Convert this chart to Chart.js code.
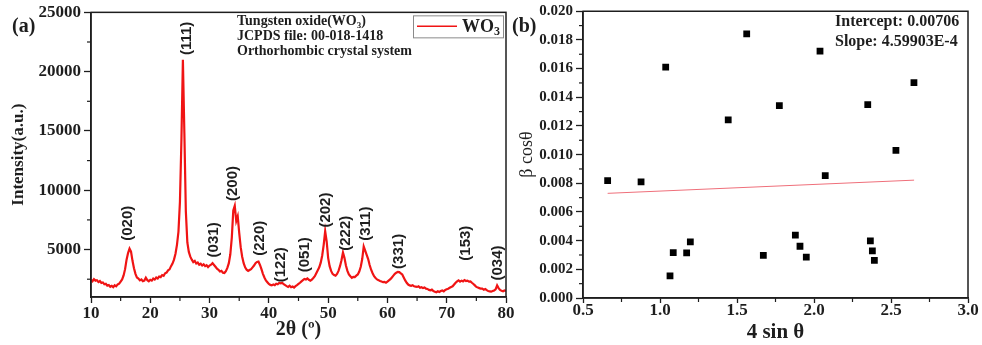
<!DOCTYPE html>
<html>
<head>
<meta charset="utf-8">
<script src="https://cdn.jsdelivr.net/npm/chart.js@4.4.1/dist/chart.umd.min.js"></script>
<style>
  html, body { margin: 0; padding: 0; background: #fff; }
  #wrap { position: relative; width: 982px; height: 345px; overflow: hidden; background: #fff; }
  #xrd { position: absolute; left: 0; top: 0; }
  #wh { position: absolute; left: 500px; top: 0; }
</style>
</head>
<body>
<div id="wrap">
  <canvas id="xrd" width="520" height="345" style="width:520px;height:345px"></canvas>
  <canvas id="wh" width="482" height="345" style="width:482px;height:345px"></canvas>
</div>
<script>
const thetaStart = 10;
const thetaStep = 0.25;
const intensity = [
  2450, 2330, 2500, 2380,   // 10
  2420, 2260, 2350, 2190,   // 11
  2230, 2080, 2120, 1960,   // 12
  2010, 1860, 1940, 1830,   // 13
  1990, 1900, 2060, 2120,   // 14
  2300, 2480, 2820, 3350,   // 15
  4150, 4700, 5080, 4820,   // 16
  4050, 3420, 2950, 2640,   // 17
  2560, 2400, 2480, 2330,   // 18
  2380, 2620, 2420, 2330,   // 19
  2450, 2380, 2560, 2470,   // 20
  2640, 2560, 2730, 2680,   // 21
  2850, 2790, 3000, 3060,   // 22
  3250, 3330, 3600, 3820,   // 23
  4150, 4650, 5400, 6500,   // 24
  9000, 14200, 21000, 14800, // 25
  8200, 5600, 4800, 4400,   // 26
  4150, 3950, 4050, 3820,   // 27
  3900, 3720, 3800, 3650,   // 28
  3750, 3600, 3680, 3520,   // 29
  3650, 3720, 3850, 3700,   // 30
  3550, 3380, 3300, 3150,   // 31
  3200, 3050, 3020, 3180,   // 32
  3450, 3850, 4600, 6000,   // 33
  8300, 8700, 7400, 7800,   // 34
  6400, 5200, 4400, 3850,   // 35
  3500, 3300, 3200, 3280,   // 36
  3350, 3500, 3650, 3850,   // 37
  3950, 3980, 3700, 3350,   // 38
  2950, 2650, 2400, 2250,   // 39
  2100, 2020, 1980, 2060,   // 40
  2000, 2120, 2080, 2180,   // 41
  2150, 2200, 2080, 2000,   // 42
  1920, 1850, 1950, 1820,   // 43
  1880, 1800, 1920, 2000,   // 44
  2100, 2200, 2320, 2420,   // 45
  2520, 2480, 2560, 2450,   // 46
  2380, 2470, 2600, 2750,   // 47
  3000, 3250, 3500, 3900,   // 48
  4500, 5400, 6550, 5700,   // 49
  4300, 3600, 3200, 2950,   // 50
  2850, 2800, 2950, 3200,   // 51
  3600, 4100, 4750, 4300,   // 52
  3650, 3200, 2900, 2750,   // 53
  2620, 2700, 2680, 2800,   // 54
  2900, 3150, 3550, 4200,   // 55
  5250, 4900, 4550, 4200,   // 56
  3700, 3300, 3000, 2750,   // 57
  2600, 2480, 2420, 2350,   // 58
  2300, 2250, 2280, 2200,   // 59
  2300, 2400, 2500, 2650,   // 60
  2800, 2950, 3050, 3120,   // 61
  3100, 3000, 2900, 2650,   // 62
  2400, 2200, 2050, 1980,   // 63
  1950, 2000, 1900, 1880,   // 64
  1850, 1900, 1780, 1820,   // 65
  1750, 1800, 1700, 1680,   // 66
  1600, 1560, 1620, 1500,   // 67
  1450, 1400, 1480, 1420,   // 68
  1500, 1550, 1480, 1600,   // 69
  1650, 1700, 1780, 1850,   // 70
  1900, 2050, 2200, 2320,   // 71
  2400, 2300, 2380, 2320,   // 72
  2420, 2350, 2380, 2300,   // 73
  2320, 2200, 2100, 1980,   // 74
  1850, 1800, 1750, 1700,   // 75
  1700, 1620, 1680, 1580,   // 76
  1500, 1480, 1450, 1500,   // 77
  1550, 1650, 1980, 1750,   // 78
  1600, 1520, 1480, 1550,   // 79
  1520                      // 80
];
const twoTheta = intensity.map((_, i) => thetaStart + i * thetaStep);

// hkl labels and where they sit (2theta, intensity at the start of the text)
const peakNames = ['(020)', '(111)', '(031)', '(200)', '(220)', '(122)', '(051)', '(202)', '(222)', '(311)', '(331)', '(153)', '(034)'];
const peakAt    = [16.2, 26.2, 30.7, 34.0, 38.4, 42.1, 46.0, 49.6, 53.0, 56.3, 62.0, 73.2, 78.6];
const peakLevel = [5740, 21400, 4340, 9090, 4480, 2240, 3080, 6850, 4900, 5740, 3370, 4060, 2390];

const xrdTicksY = [5000, 10000, 15000, 20000, 25000];
const xrdMinorX = [15, 25, 35, 45, 55, 65, 75];
const xrdMinorY = [2500, 7500, 12500, 17500, 22500];

// (b) Williamson-Hall plot
const fourSin = [0.660, 0.877, 1.037, 1.065, 1.086, 1.173, 1.197, 1.443, 1.563, 1.671, 1.775,
                 1.879, 1.909, 1.950, 2.039, 2.073, 2.349, 2.366, 2.379, 2.392, 2.532, 2.649];
const betaCos = [0.00819, 0.00810, 0.01611, 0.00155, 0.00317, 0.00315, 0.00391, 0.01243, 0.01842, 0.00297, 0.01342,
                 0.00438, 0.00361, 0.00285, 0.01722, 0.00854, 0.01349, 0.00398, 0.00328, 0.00262, 0.01030, 0.01502];
const fitX = [0.66, 2.65];
const fitY = [0.00730, 0.00822];

const whMinorX = [0.75, 1.25, 1.75, 2.25, 2.75];
const whMinorY = [0.001, 0.003, 0.005, 0.007, 0.009, 0.011, 0.013, 0.015, 0.017, 0.019];

const SERIF = '"Liberation Serif", "Times New Roman", serif';
const SANS = '"Liberation Sans", Arial, sans-serif';
const INK = '#1e1e1e';

// text with subscript parts: ['WO', ['3'], ')']
function drawRich(ctx, parts, x, y, size, weight) {
  let cx = x;
  parts.forEach(p => {
    const sub = Array.isArray(p);
    const txt = sub ? p[0] : p;
    ctx.font = `${weight} ${sub ? Math.round(size * 0.65) : size}px ${SERIF}`;
    ctx.fillText(txt, cx, sub ? y + size * 0.3 : y);
    cx += ctx.measureText(txt).width;
  });
  return cx;
}

const deco = {
  id: 'deco',
  afterDraw(chart, args, opts) {
    const { ctx, chartArea: a, scales } = chart;
    ctx.save();
    ctx.strokeStyle = INK;
    ctx.lineWidth = 1.5;
    ctx.strokeRect(a.left, a.top, a.right - a.left, a.bottom - a.top);

    ctx.lineWidth = 1.2;
    (opts.minorX || []).forEach(v => {
      const p = scales.x.getPixelForValue(v);
      ctx.beginPath(); ctx.moveTo(p, a.bottom); ctx.lineTo(p, a.bottom + 4); ctx.stroke();
    });
    (opts.minorY || []).forEach(v => {
      const p = scales.y.getPixelForValue(v);
      ctx.beginPath(); ctx.moveTo(a.left, p); ctx.lineTo(a.left - 4, p); ctx.stroke();
    });

    ctx.fillStyle = INK;
    ctx.textBaseline = 'middle';
    ctx.textAlign = 'left';

    if (opts.peaks) {
      ctx.font = `bold 15px ${SANS}`;
      opts.peaks.names.forEach((name, i) => {
        const px = scales.x.getPixelForValue(opts.peaks.x[i]);
        const py = scales.y.getPixelForValue(opts.peaks.y[i]);
        ctx.save();
        ctx.translate(px, py);
        ctx.rotate(-Math.PI / 2);
        ctx.fillText(name, 0, 0);
        ctx.restore();
      });
    }

    (opts.notes || []).forEach(n => {
      drawRich(ctx, n.parts, n.x, n.y, n.size, n.weight || 'bold');
    });

    if (opts.legend) {
      const ds = chart.data.datasets[0];
      const bx = a.right - 93, by = a.top + 3, bw = 90, bh = 22;
      ctx.fillStyle = '#fff';
      ctx.fillRect(bx, by, bw, bh);
      ctx.strokeStyle = '#8a8a8a';
      ctx.lineWidth = 1;
      ctx.strokeRect(bx + 0.5, by + 0.5, bw, bh);
      ctx.strokeStyle = ds.borderColor;
      ctx.lineWidth = 1.5;
      ctx.beginPath(); ctx.moveTo(bx + 4, by + 11); ctx.lineTo(bx + 44, by + 11); ctx.stroke();
      ctx.fillStyle = INK;
      drawRich(ctx, ['WO', ['3']], bx + 49, by + 11.5, 18, 'bold');
    }
    ctx.restore();
  }
};

const axisBase = (fontSize) => ({
  border: { display: true, color: INK, width: 1.5 },
  grid: { display: true, drawOnChartArea: false, drawTicks: true, tickLength: 7, tickColor: INK, tickWidth: 1.3 },
  ticks: { color: INK, font: { family: SERIF, size: fontSize, weight: 'bold', lineHeight: 1.1 } }
});

// ---------- (a) XRD ----------
const xA = axisBase(17);
xA.type = 'linear';
xA.min = 10; xA.max = 80;
xA.ticks.stepSize = 10;
xA.ticks.padding = 1;
xA.grid.tickLength = 6;
xA.title = { display: true, text: '2θ (º)', color: INK, font: { family: SERIF, size: 20, weight: 'bold' }, padding: { top: 0, bottom: 3 } };
xA.afterFit = s => { s.height = 48; };

const yA = axisBase(17);
yA.min = 1000; yA.max = 25000;
yA.ticks.padding = 3;
yA.ticks.callback = v => String(v);
yA.afterBuildTicks = s => { s.ticks = xrdTicksY.map(v => ({ value: v })); };
yA.title = { display: true, text: 'Intensity(a.u.)', color: INK, font: { family: SERIF, size: 17, weight: 'bold' }, padding: { top: 8, bottom: 0 } };
yA.afterFit = s => { s.width = 91; };

new Chart(document.getElementById('xrd'), {
  type: 'line',
  data: {
    datasets: [{
      label: 'WO3',
      data: twoTheta.map((t, i) => ({ x: t, y: intensity[i] })),
      borderColor: '#f01414',
      borderWidth: 2.2,
      pointRadius: 0,
      tension: 0,
      fill: false
    }]
  },
  options: {
    responsive: false,
    animation: false,
    layout: { padding: { left: 0, right: 14, top: 10, bottom: 0 } },
    scales: { x: xA, y: yA },
    plugins: {
      legend: { display: false },
      tooltip: { enabled: false },
      deco: {
        minorX: xrdMinorX,
        minorY: xrdMinorY,
        legend: true,
        peaks: { names: peakNames, x: peakAt, y: peakLevel },
        notes: [
          { parts: ['(a)'], x: 12, y: 27, size: 20 },
          { parts: ['Tungsten oxide(WO', ['3'], ')'], x: 237, y: 21.5, size: 14 },
          { parts: ['JCPDS file: 00-018-1418'], x: 237, y: 36.5, size: 14 },
          { parts: ['Orthorhombic crystal system'], x: 237, y: 51.5, size: 14 }
        ]
      }
    }
  },
  plugins: [deco]
});

// ---------- (b) Williamson-Hall ----------
const xB = axisBase(17);
xB.type = 'linear';
xB.min = 0.5; xB.max = 3.0;
xB.ticks.stepSize = 0.5;
xB.ticks.padding = -2;
xB.ticks.callback = v => v.toFixed(1);
xB.grid.tickLength = 5;
xB.title = { display: true, text: '4 sin θ', color: INK, font: { family: SERIF, size: 21, weight: 'bold' }, padding: { top: 0, bottom: 0 } };
xB.afterFit = s => { s.height = 47; };

const yB = axisBase(15);
yB.min = 0; yB.max = 0.02;
yB.ticks.stepSize = 0.002;
yB.ticks.padding = 3;
yB.ticks.callback = v => v.toFixed(3);
yB.title = { display: true, text: 'β cosθ', color: INK, font: { family: SERIF, size: 18, weight: 'normal' }, padding: { top: 16, bottom: 0 } };
yB.afterFit = s => { s.width = 83; };

new Chart(document.getElementById('wh'), {
  type: 'scatter',
  data: {
    datasets: [{
      label: 'beta cos theta',
      data: fourSin.map((x, i) => ({ x, y: betaCos[i] })),
      pointStyle: 'rect',
      pointRadius: 4.8,
      pointBackgroundColor: '#000',
      pointBorderWidth: 0,
      showLine: false
    }, {
      label: 'Linear fit',
      type: 'line',
      data: fitX.map((x, i) => ({ x, y: fitY[i] })),
      borderColor: '#ef6f7a',
      borderWidth: 1,
      pointRadius: 0,
      showLine: true,
      fill: false
    }]
  },
  options: {
    responsive: false,
    animation: false,
    layout: { padding: { left: 0, right: 14, top: 10, bottom: 0 } },
    scales: { x: xB, y: yB },
    plugins: {
      legend: { display: false },
      tooltip: { enabled: false },
      deco: {
        minorX: whMinorX,
        minorY: whMinorY,
        notes: [
          { parts: ['(b)'], x: 12, y: 27, size: 20 },
          { parts: ['Intercept: 0.00706'], x: 335, y: 22, size: 16 },
          { parts: ['Slope: 4.59903E-4'], x: 335, y: 42, size: 16 }
        ]
      }
    }
  },
  plugins: [deco]
});
</script>
</body>
</html>
